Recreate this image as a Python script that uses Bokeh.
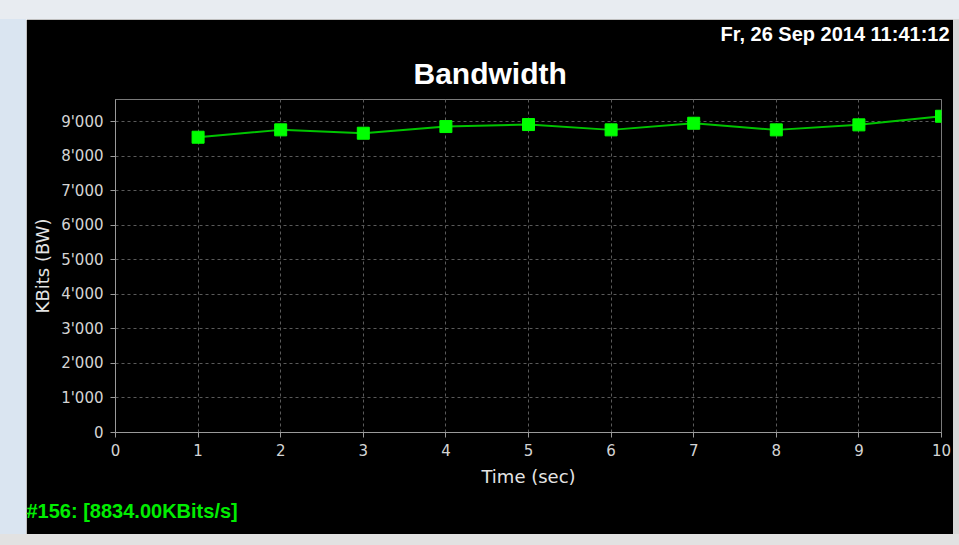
from bokeh.plotting import figure
from bokeh.models import FixedTicker, Range1d, Spacer, Title
from bokeh.layouts import column, row
from bokeh.embed import file_html
from bokeh.resources import INLINE

# ---- data ----
time_sec = [1, 2, 3, 4, 5, 6, 7, 8, 9, 10]
bandwidth_kbits = [8545, 8758, 8661, 8854, 8912, 8758, 8950, 8758, 8903, 9152]
x_ticks = [0, 1, 2, 3, 4, 5, 6, 7, 8, 9, 10]
y_ticks = [0, 1000, 2000, 3000, 4000, 5000, 6000, 7000, 8000, 9000]
y_tick_labels = ["0", "1'000", "2'000", "3'000", "4'000", "5'000",
                 "6'000", "7'000", "8'000", "9'000"]
title_text = "Bandwidth"
date_text = "Fr, 26 Sep 2014 11:41:12"
status_text = "#156: [8834.00KBits/s]"
x_label = "Time (sec)"
y_label = "KBits (BW)"

W, H = 927, 515
FL, FR, FT, FB = 89, 12, 80, 102

p = figure(width=W, height=H, output_backend="svg", toolbar_location=None,
           x_range=Range1d(0, 10), y_range=Range1d(0, 9637),
           min_border_left=FL, min_border_right=FR,
           min_border_top=FT, min_border_bottom=FB)
p.background_fill_color = "black"
p.border_fill_color = "black"
p.outline_line_color = "#7a7a7a"
p.outline_line_width = 1

for g in (p.xgrid, p.ygrid):
    g.grid_line_color = "#5a5a5a"
    g.grid_line_dash = "3 3"
    g.grid_line_width = 1

p.xaxis.ticker = FixedTicker(ticks=x_ticks)
p.yaxis.ticker = FixedTicker(ticks=y_ticks)
p.yaxis.major_label_overrides = {t: l for t, l in zip(y_ticks, y_tick_labels)}

for ax in (p.xaxis[0], p.yaxis[0]):
    ax.axis_line_color = "#9a9a9a"
    ax.major_tick_line_color = "#9a9a9a"
    ax.major_tick_out = 5
    ax.major_tick_in = 0
    ax.minor_tick_line_color = None
    ax.major_label_text_color = "#d4d4d4"
    ax.major_label_text_font = "DejaVu Sans"
    ax.major_label_text_font_size = "15px"
    ax.axis_label_text_color = "#e4e4e4"
    ax.axis_label_text_font = "DejaVu Sans"
    ax.axis_label_text_font_size = "18px"
    ax.axis_label_text_font_style = "normal"

p.xaxis.axis_label = x_label
p.yaxis.axis_label = y_label
p.yaxis.major_label_standoff = 7
p.xaxis.major_label_standoff = 6
p.xaxis.axis_label_standoff = 7
p.yaxis.axis_label_standoff = 5

p.line(time_sec, bandwidth_kbits, line_color="#00c400", line_width=2)
p.scatter(time_sec, bandwidth_kbits, marker="square", size=12,
          fill_color="#00ff00", line_color="#00ff00")

p.add_layout(Title(text=title_text, align="left", offset=298, standoff=20,
                   text_color="white", text_font="Liberation Sans",
                   text_font_style="bold", text_font_size="30px"), "above")
p.add_layout(Title(text=date_text, align="left", offset=605, standoff=0,
                   text_color="white", text_font="Liberation Sans",
                   text_font_style="bold", text_font_size="20px"), "above")
p.add_layout(Title(text=status_text, align="left", offset=-89, standoff=21,
                   vertical_align="top",
                   text_color="#00ee00", text_font="Liberation Sans",
                   text_font_style="bold", text_font_size="20px"), "below")

top = Spacer(width=959, height=19, styles={"background-color": "#e8ecf1"})
left = Spacer(width=26, height=H, styles={"background-color": "#dae5f1"})
right = Spacer(width=6, height=H, styles={"background-color": "#d8d8d8"})
bottom = Spacer(width=959, height=11, styles={"background-color": "#e2e2e2"})
layout = column(top, row(left, p, right), bottom)

open("out.html", "w").write(file_html(layout, INLINE))
